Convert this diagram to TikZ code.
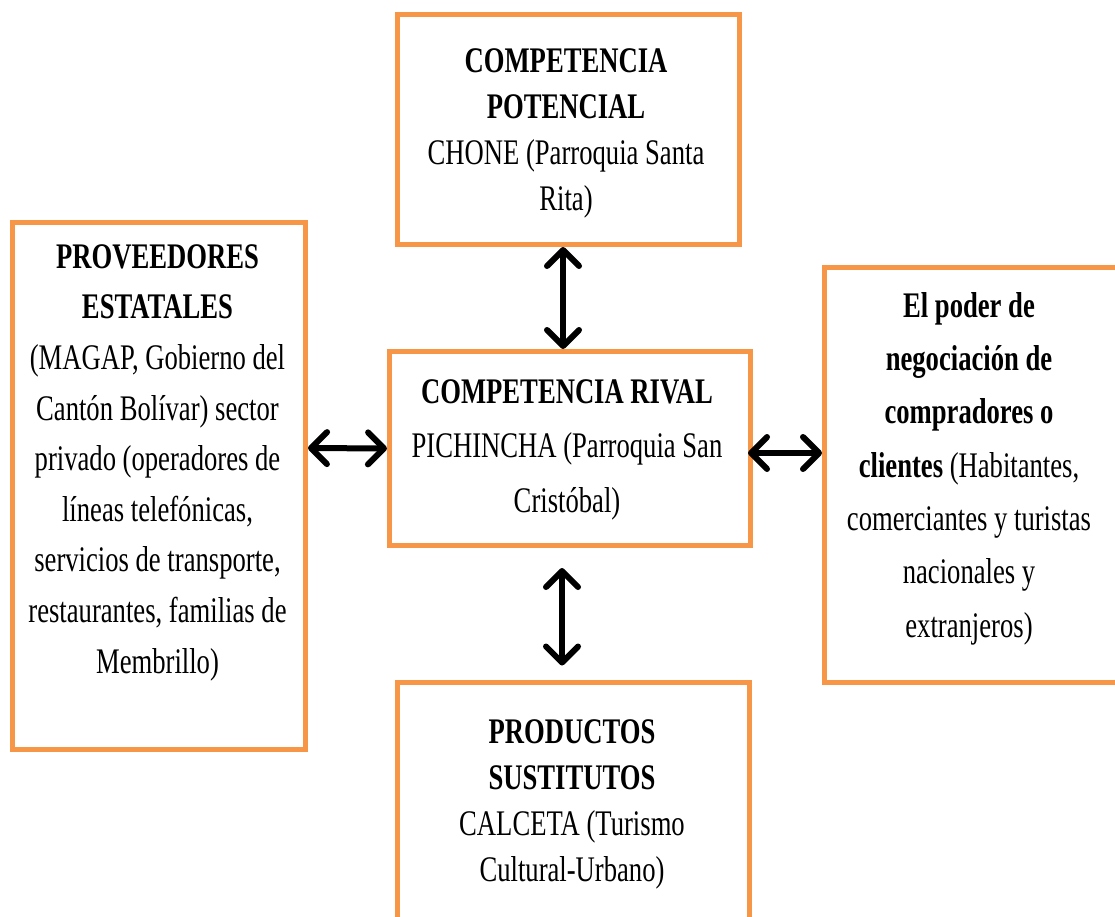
\documentclass[tikz,border=0pt]{standalone}
\usepackage{fontspec}
\setmainfont{Liberation Serif}[FakeStretch=0.74]
\usetikzlibrary{arrows.meta}
\definecolor{boxorange}{HTML}{F79646}
\tikzset{
  box/.style={draw=boxorange, line width=5pt, rectangle, inner sep=0pt, fill=white},
  txt/.style={anchor=north, inner sep=0pt, align=center, text=black},
  dbl/.style={line width=6pt, black,
    {Straight Barb[length=16pt,width=32pt,round]}-{Straight Barb[length=16pt,width=32pt,round]}}
}
\newcommand{\firstline}{\rule{0pt}{30pt}}
\begin{document}
\begin{tikzpicture}[x=1pt,y=-1pt]
\useasboundingbox (0,0) rectangle (1115,917);
\clip (0,0) rectangle (1115,917);
\fill[white] (0,0) rectangle (1115,917);
% boxes
\node[box, minimum width=342pt, minimum height=230pt] (top) at (568.5,129.5) {};
\node[box, minimum width=293pt, minimum height=527pt] (left) at (159,486) {};
\node[box, minimum width=361pt, minimum height=194pt] (mid) at (570,448.5) {};
\node[box, minimum width=292.5pt, minimum height=415pt] (right) at (970.75,475) {};
\node[box, minimum width=352pt, minimum height=243pt] (bottom) at (573.5,804) {};
% texts
\node[txt, font=\fontsize{36}{46}\selectfont] (toptxt) at (566,42)
  {\firstline\textbf{COMPETENCIA}\\\textbf{POTENCIAL}\\CHONE (Parroquia Santa\\Rita)};
\node[txt, font=\fontsize{36}{54.5}\selectfont] (midtxt) at (567,373)
  {\firstline\textbf{COMPETENCIA RIVAL}\\PICHINCHA (Parroquia San\\Cristóbal)};
\node[txt, font=\fontsize{36}{50.6}\selectfont] (lefttxt) at (157.5,238)
  {\firstline\textbf{PROVEEDORES}\\\textbf{ESTATALES}\\(MAGAP, Gobierno del\\Cantón Bolívar) sector\\privado (operadores de\\líneas telefónicas,\\servicios de transporte,\\restaurantes, familias de\\Membrillo)};
\node[txt, font=\fontsize{36}{53.3}\selectfont] (righttxt) at (969,287)
  {\firstline\textbf{El poder de}\\\textbf{negociación de}\\\textbf{compradores o}\\\textbf{clientes} (Habitantes,\\comerciantes y turistas\\nacionales y\\extranjeros)};
\node[txt, font=\fontsize{36}{46}\selectfont] (bottomtxt) at (572,713)
  {\firstline\textbf{PRODUCTOS}\\\textbf{SUSTITUTOS}\\CALCETA (Turismo\\Cultural-Urbano)};
% arrows
\draw[dbl] ([xshift=-5.5pt]top.south) -- ([xshift=-7pt]mid.north);
\draw[dbl] ([yshift=38pt]left.east) -- (mid.west);
\draw[dbl] ([xshift=-5pt,yshift=-4.5pt]mid.east) -- ([yshift=22pt]right.west);
\draw[dbl] ([xshift=-8pt,yshift=-20pt]mid.south) -- ([xshift=-11.5pt,yshift=14.5pt]bottom.north);
\end{tikzpicture}
\end{document}
